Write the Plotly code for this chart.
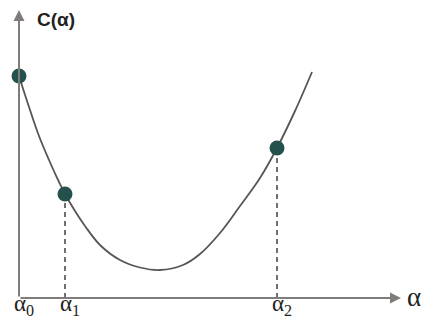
import plotly.graph_objects as go

# Cost curve C(alpha): sampled points along the curve
curve_alpha = [0, 10, 20, 30, 40, 46, 56, 66, 81, 101, 121, 141, 164, 181, 201, 221, 241, 258, 276, 293]
curve_cost = [222, 191, 162, 138, 116, 104, 87, 72, 53, 38, 30.5, 28, 33, 44, 65, 92, 120, 150, 187, 226]

# Marked iterates alpha_0, alpha_1, alpha_2
point_alpha = [0, 46, 258]
point_cost = [222, 104, 150]
point_labels = ["α<sub>0</sub>", "α<sub>1</sub>", "α<sub>2</sub>"]

line_color = "#5a5552"
axis_color = "#7f7c7a"
dot_color = "#24514b"
serif = "Liberation Serif, Times New Roman, serif"

fig = go.Figure()

# dashed drop lines from alpha_1 and alpha_2 to the axis
for a, c in zip(point_alpha[1:], point_cost[1:]):
    fig.add_trace(go.Scatter(
        x=[a, a], y=[0, c], mode="lines",
        line=dict(color="#222222", width=1.3, dash="5px,4px"),
        hoverinfo="skip", showlegend=False))

fig.add_trace(go.Scatter(
    x=curve_alpha, y=curve_cost, mode="lines",
    line=dict(color=line_color, width=1.8, shape="spline", smoothing=1.0),
    showlegend=False))

fig.add_trace(go.Scatter(
    x=point_alpha, y=point_cost, mode="markers",
    marker=dict(color=dot_color, size=15, line=dict(width=0)),
    showlegend=False))

# axes with arrowheads
fig.add_annotation(x=0, y=288, ax=0, ay=0, xref="x", yref="y", axref="x", ayref="y",
                   showarrow=True, arrowhead=2, arrowsize=1.1, arrowwidth=2,
                   arrowcolor=axis_color, text="")
fig.add_annotation(x=382, y=0, ax=0, ay=0, xref="x", yref="y", axref="x", ayref="y",
                   showarrow=True, arrowhead=2, arrowsize=1.1, arrowwidth=2,
                   arrowcolor=axis_color, text="")

# axis titles
fig.add_annotation(x=16, y=279, xref="x", yref="y", text="<b>C(α)</b>",
                   showarrow=False, xanchor="left", yanchor="middle",
                   font=dict(family="Liberation Sans, Arial, sans-serif", size=19, color="#222"))
fig.add_annotation(x=386, y=1, xref="x", yref="y", text="α",
                   showarrow=False, xanchor="left", yanchor="middle",
                   font=dict(family=serif, size=27, color="#222"))

# tick labels under the marked points
for a, lab in zip(point_alpha, point_labels):
    fig.add_annotation(x=a + 5, y=9, xref="x", yref="y", text=lab,
                       showarrow=False, xanchor="center", yanchor="top",
                       font=dict(family=serif, size=23, color="#222"))

fig.update_xaxes(range=[-19, 412], visible=False, fixedrange=True)
fig.update_yaxes(range=[-22, 298], visible=False, fixedrange=True)
fig.update_layout(width=431, height=320, autosize=False,
                  margin=dict(l=0, r=0, t=0, b=0),
                  paper_bgcolor="white", plot_bgcolor="white")

fig.write_html("out.html")
